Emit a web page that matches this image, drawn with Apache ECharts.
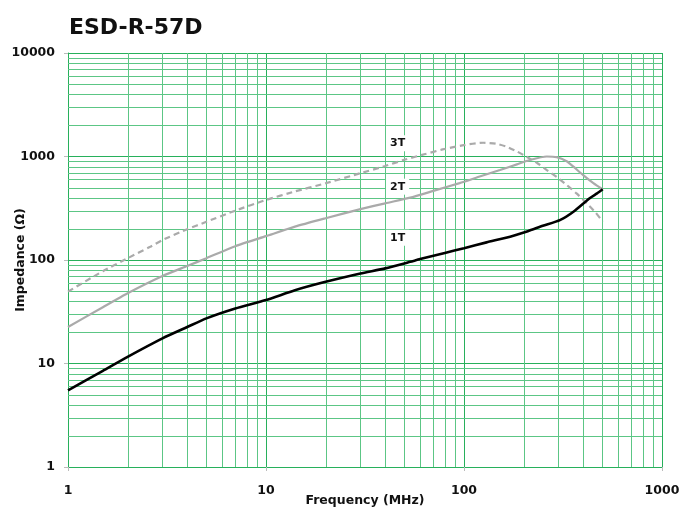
<!DOCTYPE html>
<html>
<head>
<meta charset="utf-8">
<script src="https://cdn.jsdelivr.net/npm/echarts@6/dist/echarts.min.js"></script>
<style>html,body{margin:0;padding:0;background:#fff;}#c{width:685px;height:511px;}</style>
</head>
<body>
<div id="c"></div>
<script>
var titleText = 'ESD-R-57D';
var xName = 'Frequency (MHz)';
var yName = 'Impedance (\u03A9)';
var xMinorTicks = [2,3,4,5,6,7,8,9,20,30,40,50,60,70,80,90,200,300,400,500,600,700,800,900];
var yMinorTicks = [2,3,4,5,6,7,8,9,20,30,40,50,60,70,80,90,200,300,400,500,600,700,800,900,2000,3000,4000,5000,6000,7000,8000,9000];

var freq1T = [1,1.5,2,3,4,5,7,10,14,20,30,40,53.5,60,80,100,130,171,210,250,305,357,433,470,502];
var imp1T  = [5.5,8.5,11.6,17.5,22.5,27.3,34,41,51,61.5,74,83,96,102,117,130,148,168,190,214,243,293,398,440,482];

var freq2T = [1,1.5,2,3,4,5,7,10,14,20,30,40,53.5,70,95,120,152,185,215,262,294,330,357,400,450,502];
var imp2T  = [22.5,35,47.7,70,87.5,104,136,170,210,253,310,353,400,465,553,640,740,840,925,1000,985,900,797,660,552,482];

var freq3T = [1,1.5,2,2.6,3,4,5,7,10,14,20,30,40,50,63,78,100,125,145,164,185,207,235,262,295,330,370,417,460,502];
var imp3T  = [49.5,78,104,134,156,198,234,300,380,460,551,690,809,930,1050,1170,1290,1358,1330,1245,1120,995,860,740,630,531,440,353,290,235];

var seriesLabels = ['1T','2T','3T'];
var labelPos = [[46.2,164],[46.2,511],[46.2,1342]];

var X_MIN = 1, X_MAX = 1000, Y_MIN = 1, Y_MAX = 10000;

function pairs(xs, ys){ return xs.map(function(x,i){ return [x, ys[i]]; }); }

var majorColor = '#27b05b';
var minorColor = '#5cc685';
var font = 'DejaVu Sans';

function lbl(i){
  return {
    silent: true, symbol: 'rect', symbolSize: 1,
    itemStyle: {color: 'rgba(255,255,255,0)'},
    data: [{coord: labelPos[i],
      label: {show: true, formatter: seriesLabels[i], position: 'inside',
        fontFamily: font, fontWeight: 'bold', fontSize: 11, color: '#111',
        backgroundColor: '#fff', padding: [3,4,2,4]}}]
  };
}

// grid-line helper data: [x, y, direction] (1 = vertical, 2 = horizontal)
var gridData = [];
xMinorTicks.forEach(function(v){ gridData.push([v, Y_MIN, 1]); });
yMinorTicks.forEach(function(v){ gridData.push([X_MIN, v, 2]); });

function renderGrid(params, api){
  var dir = api.value(2);
  var p1, p2;
  if (dir === 1) {
    p1 = api.coord([api.value(0), Y_MIN]);
    p2 = api.coord([api.value(0), Y_MAX]);
    var x = Math.round(p1[0]) + 0.5;
    return {type: 'line', silent: true,
      shape: {x1: x, y1: p1[1], x2: x, y2: p2[1]},
      style: {stroke: minorColor, lineWidth: 1}};
  } else {
    p1 = api.coord([X_MIN, api.value(1)]);
    p2 = api.coord([X_MAX, api.value(1)]);
    var y = Math.round(p1[1]) + 0.5;
    return {type: 'line', silent: true,
      shape: {x1: p1[0], y1: y, x2: p2[0], y2: y},
      style: {stroke: minorColor, lineWidth: 1}};
  }
}

function fmt(v){ return String(Math.round(v)); }

var chart = echarts.init(document.getElementById('c'), null, {renderer: 'canvas'});
chart.setOption({
  animation: false,
  title: {text: titleText, left: 64, top: 12,
    textStyle: {fontFamily: font, fontWeight: 'bold', fontSize: 22, color: '#111'}},
  grid: {left: 68, right: 23, top: 53, bottom: 44, containLabel: false, outerBoundsMode: 'none'},
  xAxis: {
    type: 'log', logBase: 10, min: X_MIN, max: X_MAX,
    name: xName, nameLocation: 'middle', nameGap: 27, nameMoveOverlap: false,
    nameTextStyle: {fontFamily: font, fontWeight: 'bold', fontSize: 12.5, color: '#111'},
    axisLine: {show: true, lineStyle: {color: majorColor, width: 1}},
    axisTick: {show: true, length: 4, lineStyle: {color: '#bbb'}},
    axisLabel: {margin: 17, formatter: fmt, fontFamily: font, fontWeight: 'bold', fontSize: 12.5, color: '#111'},
    splitLine: {show: true, lineStyle: {color: majorColor, width: 1}}
  },
  yAxis: {
    type: 'log', logBase: 10, min: Y_MIN, max: Y_MAX,
    name: yName, nameLocation: 'middle', nameGap: 41, nameRotate: 90, nameMoveOverlap: false,
    nameTextStyle: {fontFamily: font, fontWeight: 'bold', fontSize: 12.5, color: '#111'},
    axisLine: {show: true, lineStyle: {color: majorColor, width: 1}},
    axisTick: {show: true, length: 4, lineStyle: {color: '#bbb'}},
    axisLabel: {margin: 13, formatter: fmt, fontFamily: font, fontWeight: 'bold', fontSize: 12.5, color: '#111'},
    splitLine: {show: true, lineStyle: {color: majorColor, width: 1}}
  },
  series: [
    {type: 'custom', z: 1, silent: true, renderItem: renderGrid, data: gridData,
      encode: {x: 0, y: 1}, clip: false},
    {name: '1T', type: 'line', z: 5, data: pairs(freq1T, imp1T), smooth: 0.2, showSymbol: false,
      lineStyle: {color: '#000', width: 2.6}, markPoint: lbl(0)},
    {name: '2T', type: 'line', z: 4, data: pairs(freq2T, imp2T), smooth: 0.2, showSymbol: false,
      lineStyle: {color: '#aaaaaa', width: 2.2}, markPoint: lbl(1)},
    {name: '3T', type: 'line', z: 3, data: pairs(freq3T, imp3T), smooth: 0.2, showSymbol: false,
      lineStyle: {color: '#aaaaaa', width: 2.2, type: [6,4]}, markPoint: lbl(2)}
  ]
});
</script>
</body>
</html>
